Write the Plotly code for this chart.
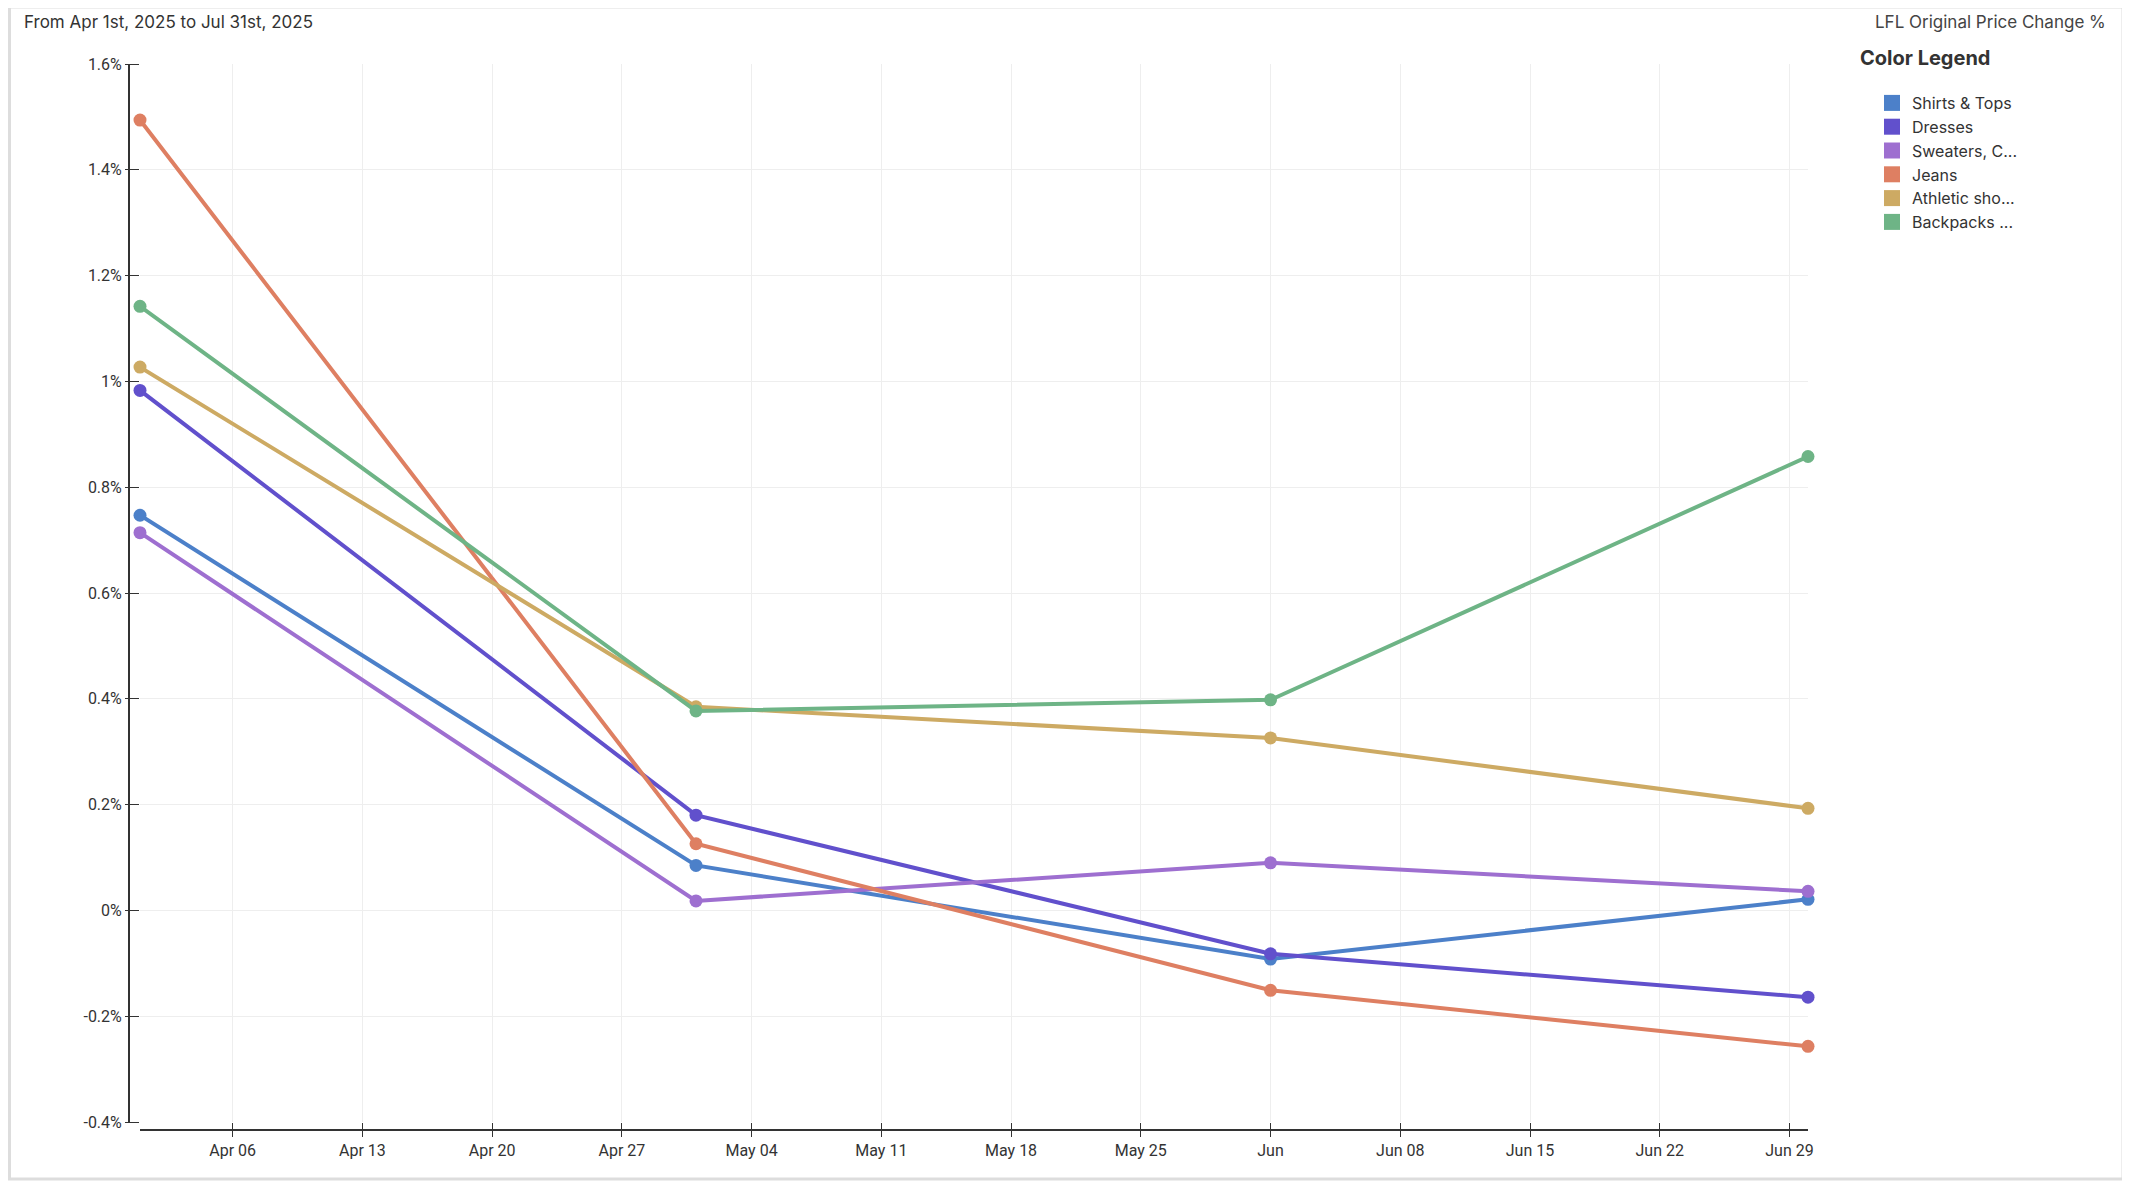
import plotly.graph_objects as go

dates = ["2025-04-01", "2025-05-01", "2025-06-01", "2025-06-30"]
series_names = ["Shirts & Tops", "Dresses", "Sweaters, C...", "Jeans", "Athletic sho...", "Backpacks ..."]
shirts = [0.747, 0.085, -0.092, 0.021]
dresses = [0.983, 0.180, -0.082, -0.164]
sweaters = [0.714, 0.018, 0.090, 0.036]
jeans = [1.494, 0.126, -0.151, -0.257]
athletic = [1.027, 0.385, 0.326, 0.193]
backpacks = [1.142, 0.377, 0.398, 0.858]
colors = ["#4C80C9", "#6150CC", "#9E6FD0", "#DE7F62", "#CDAA63", "#6EB486"]
y_ticks = [-0.4, -0.2, 0, 0.2, 0.4, 0.6, 0.8, 1, 1.2, 1.4, 1.6]
x_ticks = ["2025-04-06", "2025-04-13", "2025-04-20", "2025-04-27", "2025-05-04", "2025-05-11",
           "2025-05-18", "2025-05-25", "2025-06-01", "2025-06-08", "2025-06-15", "2025-06-22", "2025-06-29"]
x_labels = ["Apr 06", "Apr 13", "Apr 20", "Apr 27", "May 04", "May 11", "May 18", "May 25",
            "Jun", "Jun 08", "Jun 15", "Jun 22", "Jun 29"]

# page is offset by the body margin, so shift everything up/left a bit
OFF = 8
W, H = 2130, 1188
L, R, T, B = 140 - OFF, 1808 - OFF, 64 - OFF, 1122 - OFF

def px(x):
    return (x - OFF - L) / (R - L)

def py(y):
    return (B - (y - OFF)) / (B - T)

fig = go.Figure()
for name, vals, c in zip(series_names, [shirts, dresses, sweaters, jeans, athletic, backpacks], colors):
    fig.add_trace(go.Scatter(x=dates, y=vals, mode="lines+markers", name=name, cliponaxis=False,
                             line=dict(color=c, width=4), marker=dict(size=13, color=c),
                             showlegend=False))
    fig.add_trace(go.Scatter(x=[None], y=[None], mode="markers", name=name,
                             marker=dict(symbol="square", size=16, color=c)))

tickfont = dict(family="Liberation Sans Narrow, Roboto, sans-serif", size=16, color="#333")
fig.update_layout(
    width=W, height=H, plot_bgcolor="white", paper_bgcolor="white",
    margin=dict(l=L, r=W - R, t=T, b=H - B),
    xaxis=dict(range=[dates[0], dates[-1]], tickvals=x_ticks, ticktext=x_labels, tickfont=tickfont,
               showgrid=True, gridcolor="#eeeeee", zeroline=False, ticks="outside", ticklen=14,
               tickcolor="#333", showline=False),
    yaxis=dict(range=[-0.4, 1.6], tickvals=y_ticks, ticktext=[f"{v:g}%" for v in y_ticks], tickfont=tickfont,
               showgrid=True, gridcolor="#eeeeee", zeroline=False, ticks="outside", ticklen=14,
               tickcolor="#333", showline=False),
    legend=dict(x=px(1872), y=py(86), xanchor="left", yanchor="top",
                font=dict(family="Inter, sans-serif", size=16, color="#333"),
                tracegroupgap=0, itemwidth=30),
    shapes=[
        dict(type="rect", xref="paper", yref="paper", x0=px(9.5), x1=px(2123), y0=py(7), y1=py(1179),
             line=dict(color="#dddddd", width=3), layer="below"),
        dict(type="line", xref="paper", yref="paper", x0=px(129), x1=px(129), y0=py(64), y1=py(1122),
             line=dict(color="#333", width=2)),
        dict(type="line", xref="paper", yref="paper", x0=px(140), x1=px(1808), y0=py(1130), y1=py(1130),
             line=dict(color="#333", width=2)),
    ],
    annotations=[
        dict(text="From Apr 1st, 2025 to Jul 31st, 2025", xref="paper", yref="paper", x=px(22), y=py(22),
             xanchor="left", yanchor="middle", showarrow=False,
             font=dict(family="Inter, sans-serif", size=17, color="#333")),
        dict(text="LFL Original Price Change %", xref="paper", yref="paper", x=px(2108), y=py(22),
             xanchor="right", yanchor="middle", showarrow=False,
             font=dict(family="Inter, sans-serif", size=17, color="#444")),
        dict(text="<b>Color Legend</b>", xref="paper", yref="paper", x=px(1858), y=py(58),
             xanchor="left", yanchor="middle", showarrow=False,
             font=dict(family="Inter, sans-serif", size=20, color="#333")),
    ],
)
fig.write_html("out.html")
